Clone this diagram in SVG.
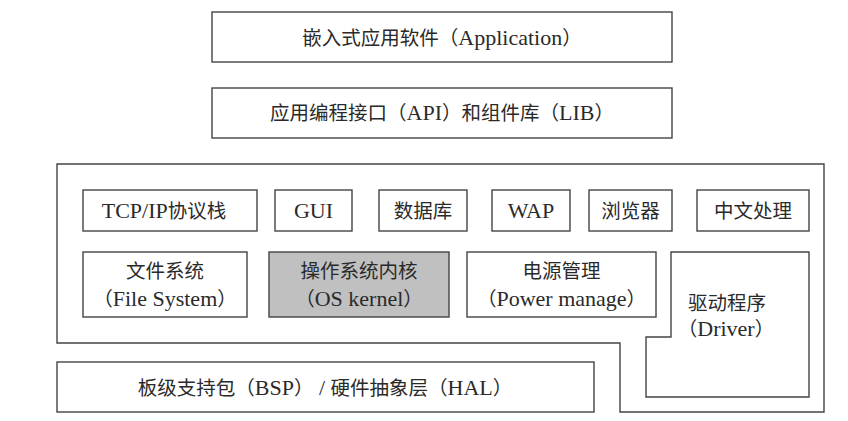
<svg xmlns="http://www.w3.org/2000/svg" width="848" height="421" viewBox="0 0 848 421">
<style>
.b{fill:#fff;stroke:#444;stroke-width:1.4}
.k{fill:#c0c0c0;stroke:#444;stroke-width:1.4}
text{font-family:"Liberation Serif","Noto Sans CJK SC",serif;font-size:22px;fill:#2a2a2a;text-anchor:middle}
.c{font-size:19.5px}
</style>
<rect width="848" height="421" fill="#fff"/>
<g id="app"><rect class="b" x="212" y="12" width="460" height="50"/><text x="442" y="44.5"><tspan class="c">嵌入式应用软件（</tspan>Application<tspan class="c">）</tspan></text></g>
<g id="api"><rect class="b" x="212" y="88" width="460" height="50"/><text x="442" y="120"><tspan class="c">应用编程接口（</tspan>API<tspan class="c">）和组件库（</tspan>LIB<tspan class="c">）</tspan></text></g>
<g id="os"><polygon class="b" points="57,164 824,164 824,412 620,412 620,343 57,343"/></g>
<g id="tcp"><rect class="b" x="83" y="190" width="174" height="41"/><text x="164" y="217.5">TCP/IP<tspan class="c">协议栈</tspan></text></g>
<g id="gui"><rect class="b" x="275" y="190" width="77" height="41"/><text x="313.5" y="217.5">GUI</text></g>
<g id="db"><rect class="b" x="379" y="190" width="88" height="41"/><text x="423" y="217.5"><tspan class="c">数据库</tspan></text></g>
<g id="wap"><rect class="b" x="492" y="190" width="78" height="41"/><text x="531" y="217.5">WAP</text></g>
<g id="browser"><rect class="b" x="589" y="190" width="83" height="41"/><text x="630.5" y="217.5"><tspan class="c">浏览器</tspan></text></g>
<g id="chinese"><rect class="b" x="697" y="190" width="112" height="41"/><text x="753" y="217.5"><tspan class="c">中文处理</tspan></text></g>
<g id="fs"><rect class="b" x="83" y="252" width="164" height="65"/><text x="165" y="277.5"><tspan class="c">文件系统</tspan></text><text x="165" y="305.5"><tspan class="c">（</tspan>File System<tspan class="c">）</tspan></text></g>
<g id="kernel"><rect class="k" x="269" y="252" width="180" height="65"/><text x="359" y="277.5"><tspan class="c">操作系统内核</tspan></text><text x="359" y="305.5"><tspan class="c">（</tspan>OS kernel<tspan class="c">）</tspan></text></g>
<g id="power"><rect class="b" x="467" y="252" width="189" height="65"/><text x="561.5" y="277.5"><tspan class="c">电源管理</tspan></text><text x="561.5" y="305.5"><tspan class="c">（</tspan>Power manage<tspan class="c">）</tspan></text></g>
<g id="driver"><polygon class="b" points="671,252 809,252 809,397 646,397 646,337 671,337"/><text x="727" y="309.5"><tspan class="c">驱动程序</tspan></text><text x="726" y="335.5"><tspan class="c">（</tspan>Driver<tspan class="c">）</tspan></text></g>
<g id="bsp"><rect class="b" x="57" y="362" width="537" height="50"/><text x="325" y="394.5"><tspan class="c">板级支持包（</tspan>BSP<tspan class="c">）</tspan> / <tspan class="c">硬件抽象层（</tspan>HAL<tspan class="c">）</tspan></text></g>
<g id="connectors"></g>
</svg>
